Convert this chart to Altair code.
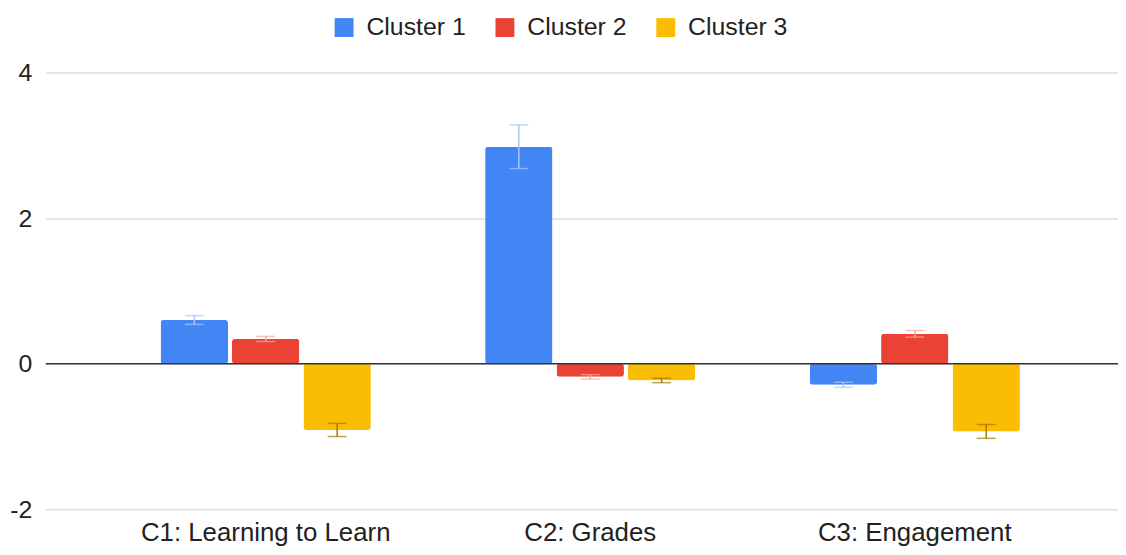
import altair as alt
import pandas as pd

categories = ["C1: Learning to Learn", "C2: Grades", "C3: Engagement"]
clusters = ["Cluster 1", "Cluster 2", "Cluster 3"]
cluster1 = [0.60, 2.98, -0.29]
cluster2 = [0.34, -0.18, 0.41]
cluster3 = [-0.91, -0.23, -0.93]
err1 = [0.06, 0.30, 0.035]
err2 = [0.035, 0.03, 0.045]
err3 = [0.09, 0.03, 0.095]

bar_colors = ["#4285F4", "#EA4335", "#FBBC04"]
err_colors = ["#A8C7FA", "#F4A7A0", "#A07C00"]

rows = []
for name, vals, errs in zip(clusters, [cluster1, cluster2, cluster3], [err1, err2, err3]):
    for cat, v, e in zip(categories, vals, errs):
        rows.append({"Category": cat, "Cluster": name, "Value": v,
                     "Lo": v - e, "Hi": v + e})
df = pd.DataFrame(rows)

FONT = "Liberation Sans"

x_enc = alt.X("Category:N", sort=categories, title=None,
              scale=alt.Scale(paddingInner=0, paddingOuter=0.152, align=0.585),
              axis=alt.Axis(labelAngle=0, labelFontSize=26, labelColor="#222222",
                            labelFont=FONT, domain=False, ticks=False, grid=False,
                            labelPadding=10, labelLimit=0))
xo_enc = alt.XOffset("Cluster:N", sort=clusters,
                     scale=alt.Scale(paddingInner=0.056, paddingOuter=0.80))
y_scale = alt.Scale(domain=[-2, 4], nice=False)

base = alt.Chart(df)

bars = base.mark_bar(cornerRadius=3).encode(
    x=x_enc,
    xOffset=xo_enc,
    y=alt.Y("Value:Q", scale=y_scale, title=None,
            axis=alt.Axis(values=[-2, 0, 2, 4], labelExpr="datum.value + ''",
                          labelFontSize=25, labelColor="#222222", labelFont=FONT,
                          domain=False, ticks=False, grid=True, gridColor="#cccccc",
                          gridWidth=1, labelPadding=14)),
    color=alt.Color("Cluster:N", sort=clusters,
                    scale=alt.Scale(domain=clusters, range=bar_colors),
                    legend=alt.Legend(orient="none", direction="horizontal",
                                      legendX=288, legendY=-58, title=None,
                                      symbolType="square", symbolSize=361,
                                      symbolStrokeWidth=0, labelFontSize=25,
                                      labelFont=FONT, labelColor="#222222",
                                      labelOffset=10, columnPadding=26)),
)

err_color = alt.Color("Cluster:N", sort=clusters,
                      scale=alt.Scale(domain=clusters, range=err_colors), legend=None)

rules = base.mark_rule(strokeWidth=1.5).encode(
    x=x_enc, xOffset=xo_enc,
    y=alt.Y("Lo:Q", scale=y_scale), y2="Hi:Q",
    color=err_color,
)
cap_lo = base.mark_tick(orient="horizontal", size=19, thickness=1.5).encode(
    x=x_enc, xOffset=xo_enc, y=alt.Y("Lo:Q", scale=y_scale), color=err_color)
cap_hi = base.mark_tick(orient="horizontal", size=19, thickness=1.5).encode(
    x=x_enc, xOffset=xo_enc, y=alt.Y("Hi:Q", scale=y_scale), color=err_color)

zero = alt.Chart(pd.DataFrame({"z": [0]})).mark_rule(color="#333333", strokeWidth=1.5).encode(
    y=alt.Y("z:Q", scale=y_scale)
)

chart = alt.layer(bars, zero, rules, cap_lo, cap_hi).resolve_scale(
    color="independent"
).properties(
    width=1080, height=440,
    autosize=alt.AutoSizeParams(type="none"),
    padding={"left": 38, "top": 63, "right": 0, "bottom": 36},
).configure_view(stroke=None)

chart.save("out.html", embed_options={"renderer": "svg", "actions": False})
